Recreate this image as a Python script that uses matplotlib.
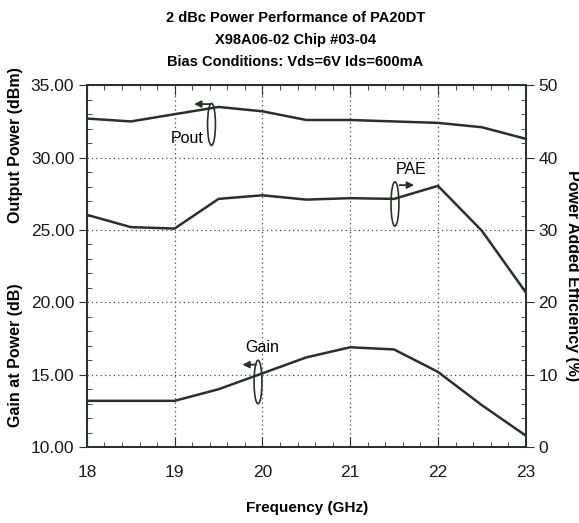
import matplotlib
matplotlib.use("Agg")
import matplotlib.pyplot as plt
from matplotlib.patches import Ellipse
from matplotlib.ticker import MultipleLocator, FormatStrFormatter

# data
freq = [18, 18.5, 19, 19.5, 20, 20.5, 21, 21.5, 22, 22.5, 23]
pout = [32.7, 32.5, 33.0, 33.5, 33.2, 32.6, 32.6, 32.5, 32.4, 32.1, 31.3]
gain = [13.2, 13.2, 13.2, 14.0, 15.1, 16.2, 16.9, 16.75, 15.2, 12.9, 10.8]
pae = [32.1, 30.4, 30.2, 34.3, 34.8, 34.2, 34.4, 34.3, 36.1, 29.9, 21.4]

fam = ['Liberation Sans', 'DejaVu Sans']
ink = '#263228'

fig = plt.figure(figsize=(5.79, 5.23), dpi=100)
ax = fig.add_axes([0.150, 0.145, 0.758, 0.692])
ax2 = ax.twinx()

ax.plot(freq, pout, color=ink, lw=1.8)
ax.plot(freq, gain, color=ink, lw=1.8)
ax2.plot(freq, pae, color=ink, lw=1.8)

ax.set_xlim(18, 23)
ax.set_ylim(10, 35)
ax2.set_ylim(0, 50)

ax.xaxis.set_major_locator(MultipleLocator(1))
ax.xaxis.set_minor_locator(MultipleLocator(0.2))
ax.yaxis.set_major_locator(MultipleLocator(5))
ax.yaxis.set_minor_locator(MultipleLocator(1))
ax.yaxis.set_major_formatter(FormatStrFormatter('%.2f'))
ax2.yaxis.set_major_locator(MultipleLocator(10))
ax2.yaxis.set_minor_locator(MultipleLocator(2))

ax.grid(True, which='major', linestyle=(0, (1, 2.5)), color='#444444', lw=0.9)

ax.tick_params(axis='x', which='major', direction='in', length=7, pad=13,
               top=True, color=ink)
ax.tick_params(axis='x', which='minor', direction='in', length=3.5,
               top=True, color=ink)
ax.tick_params(axis='y', which='major', direction='out', length=6, pad=3, color=ink)
ax.tick_params(axis='y', which='minor', direction='in', length=3.5, color=ink)
ax2.tick_params(axis='y', which='major', direction='out', length=6, pad=3, color=ink)
ax2.tick_params(axis='y', which='minor', direction='in', length=3.5, color=ink)

for a in (ax, ax2):
    for lab in a.get_xticklabels() + a.get_yticklabels():
        lab.set_family(fam)
        lab.set_fontsize(12.5)
        lab.set_color('#1a1a1a')
    for s in a.spines.values():
        s.set_color(ink)
        s.set_linewidth(1.3)

# annotations: ellipse markers with arrows toward the matching axis
ax.add_patch(Ellipse((19.42, 32.3), 0.09, 2.9, fill=False, ec=ink, lw=1.2))
ax.annotate('', xy=(19.19, 33.7), xytext=(19.44, 33.7),
            arrowprops=dict(arrowstyle='-|>', color=ink, lw=1.3, mutation_scale=10))
ax.text(19.14, 31.3, 'Pout', family=fam, fontsize=11.5, ha='center', va='center')

ax.add_patch(Ellipse((21.51, 26.8), 0.09, 3.05, fill=False, ec=ink, lw=1.2))
ax.annotate('', xy=(21.76, 28.1), xytext=(21.53, 28.1),
            arrowprops=dict(arrowstyle='-|>', color=ink, lw=1.3, mutation_scale=10))
ax.text(21.7, 29.2, 'PAE', family=fam, fontsize=11.5, ha='center', va='center')

ax.add_patch(Ellipse((19.95, 14.5), 0.09, 3.0, fill=False, ec=ink, lw=1.2))
ax.annotate('', xy=(19.74, 15.7), xytext=(19.96, 15.7),
            arrowprops=dict(arrowstyle='-|>', color=ink, lw=1.3, mutation_scale=10))
ax.text(20.0, 16.9, 'Gain', family=fam, fontsize=11.5, ha='center', va='center')

# titles and axis labels
for y, s in [(0.965, '2 dBc Power Performance of PA20DT'),
             (0.923, 'X98A06-02 Chip #03-04'),
             (0.881, 'Bias Conditions: Vds=6V Ids=600mA')]:
    fig.text(0.51, y, s, family=fam, fontweight='bold', fontsize=10.5,
             ha='center', va='center')

fig.text(0.53, 0.028, 'Frequency (GHz)', family=fam, fontweight='bold',
         fontsize=11, ha='center', va='center')
fig.text(0.026, 0.723, 'Output Power (dBm)', family=fam, fontweight='bold',
         fontsize=11.5, rotation=90, ha='center', va='center')
fig.text(0.026, 0.321, 'Gain at Power (dB)', family=fam, fontweight='bold',
         fontsize=11.5, rotation=90, ha='center', va='center')
fig.text(0.988, 0.474, 'Power Added Efficiency (%)', family=fam, fontweight='bold',
         fontsize=11.5, rotation=-90, ha='center', va='center')

fig.savefig('out.png', dpi=100)
